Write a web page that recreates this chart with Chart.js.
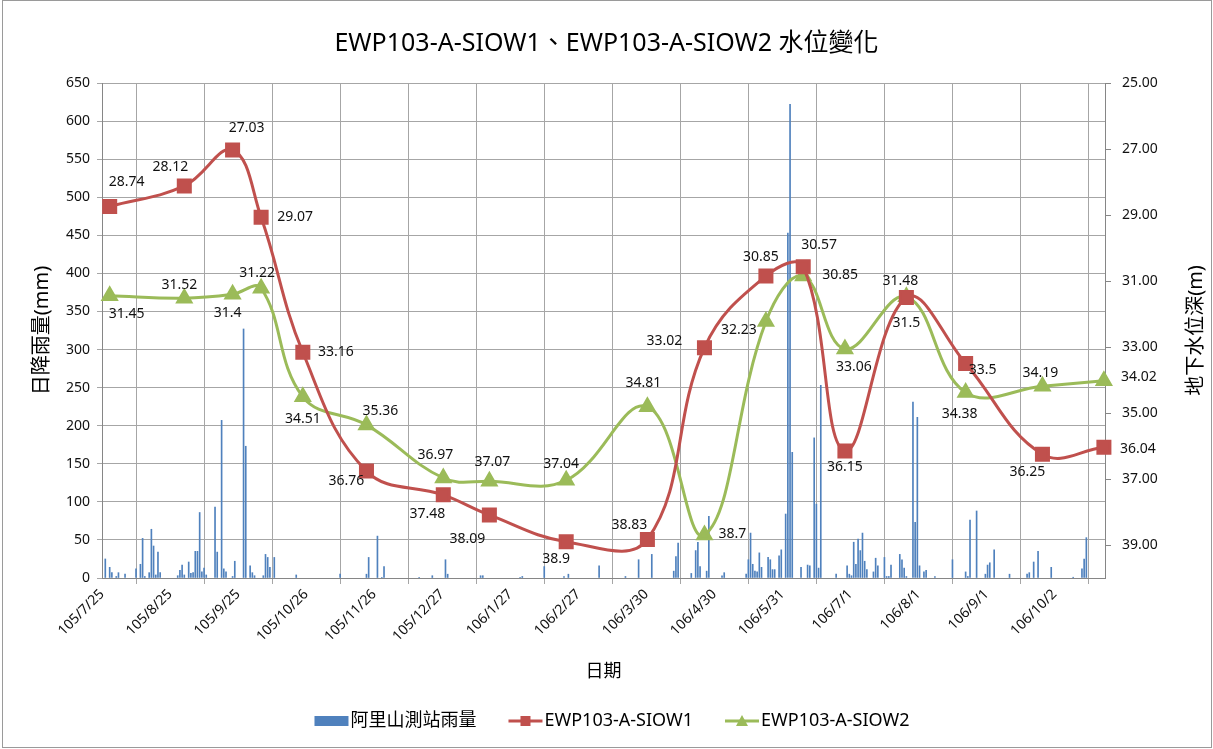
<!DOCTYPE html>
<html>
<head>
<meta charset="utf-8">
<script src="https://cdn.jsdelivr.net/npm/chart.js@4"></script>
<style>
  body { margin: 0; background: #fff; }
  canvas { display: block; }
</style>
</head>
<body>
<canvas id="chart" width="1213" height="749"></canvas>
<script>
const FONT = "'Noto Sans', 'Noto Sans CJK TC', sans-serif";
const BLUE = '#4F81BD';
const RED = '#C0504D';
const GREEN = '#9BBB59';

// x axis: tick dates (ROC calendar), one every 31 days
const xTickLabels = ['105/7/25', '105/8/25', '105/9/25', '105/10/26', '105/11/26', '105/12/27', '106/1/27',
    '106/2/27', '106/3/30', '106/4/30', '106/5/31', '106/7/1', '106/8/1', '106/9/1', '106/10/2'];
const xEndDate = '106/10/25';

// groundwater depth (m), both wells
const levelDates = ['105/7/28', '105/8/31', '105/9/22', '105/10/5', '105/10/24', '105/11/22', '105/12/27', '106/1/17',
    '106/2/21', '106/3/30', '106/4/25', '106/5/23', '106/6/9', '106/6/28', '106/7/26', '106/8/22', '106/9/26', '106/10/24'];
const siow1 = [28.74, 28.12, 27.03, 29.07, 33.16, 36.76, 37.48, 38.09, 38.9, 38.83, 33.02, 30.85, 30.57, 36.15, 31.5, 33.5, 36.25, 36.04];
const siow2 = [31.45, 31.52, 31.4, 31.22, 34.51, 35.36, 36.97, 37.07, 37.04, 34.81, 38.7, 32.23, 30.85, 33.06, 31.48, 34.38, 34.19, 34.02];

// daily rainfall at Alishan station (mm)
const rainDates = [
    '105/7/26', '105/7/28', '105/7/29', '105/7/31', '105/8/1', '105/8/4', '105/8/9', '105/8/11', '105/8/12', '105/8/13',
    '105/8/15', '105/8/16', '105/8/17', '105/8/18', '105/8/19', '105/8/20', '105/8/28', '105/8/29', '105/8/30', '105/8/31',
    '105/9/2', '105/9/3', '105/9/4', '105/9/5', '105/9/6', '105/9/7', '105/9/8', '105/9/9', '105/9/10', '105/9/14',
    '105/9/15', '105/9/17', '105/9/18', '105/9/19', '105/9/22', '105/9/23', '105/9/27', '105/9/28', '105/9/30', '105/10/1',
    '105/10/2', '105/10/6', '105/10/7', '105/10/8', '105/10/9', '105/10/11', '105/10/21', '105/11/10', '105/11/22', '105/11/23',
    '105/11/27', '105/11/29', '105/11/30', '105/12/16', '105/12/22', '105/12/28', '105/12/29', '106/1/13', '106/1/14', '106/1/31',
    '106/2/1', '106/2/11', '106/2/20', '106/2/22', '106/3/8', '106/3/20', '106/3/26', '106/4/1', '106/4/11', '106/4/12',
    '106/4/13', '106/4/19', '106/4/21', '106/4/22', '106/4/23', '106/4/26', '106/4/27', '106/5/3', '106/5/4', '106/5/14',
    '106/5/15', '106/5/16', '106/5/17', '106/5/18', '106/5/19', '106/5/20', '106/5/21', '106/5/24', '106/5/25', '106/5/26',
    '106/5/27', '106/5/29', '106/5/30', '106/6/1', '106/6/2', '106/6/3', '106/6/4', '106/6/8', '106/6/11', '106/6/12',
    '106/6/14', '106/6/15', '106/6/16', '106/6/17', '106/6/24', '106/6/29', '106/6/30', '106/7/1', '106/7/2', '106/7/3',
    '106/7/4', '106/7/5', '106/7/6', '106/7/7', '106/7/8', '106/7/11', '106/7/12', '106/7/13', '106/7/16', '106/7/17',
    '106/7/18', '106/7/19', '106/7/23', '106/7/24', '106/7/25', '106/7/26', '106/7/29', '106/7/30', '106/7/31', '106/8/1',
    '106/8/3', '106/8/4', '106/8/8', '106/8/16', '106/8/22', '106/8/23', '106/8/24', '106/8/27', '106/8/31', '106/9/1',
    '106/9/2', '106/9/4', '106/9/11', '106/9/19', '106/9/20', '106/9/22', '106/9/24', '106/9/30', '106/10/10', '106/10/14',
    '106/10/15', '106/10/16'
];
const rainMm = [
    25, 14, 7, 2, 7, 5, 12, 18, 52, 2,
    7, 64, 42, 4, 34, 7, 3, 10, 17, 4,
    21, 6, 7, 35, 35, 86, 8, 13, 4, 93,
    34, 207, 12, 8, 2, 22, 327, 173, 16, 7,
    3, 3, 31, 27, 14, 27, 4, 5, 5, 27,
    55, 1, 15, 1, 3, 24, 5, 3, 3, 1,
    2, 15, 2, 5, 16, 2, 24, 31, 9, 28,
    46, 6, 36, 47, 15, 9, 81, 3, 7, 5,
    24, 59, 18, 9, 8, 33, 14, 27, 24, 11,
    11, 29, 37, 84, 453, 622, 165, 14, 17, 16,
    184, 97, 13, 253, 5, 16, 5, 3, 47, 18,
    51, 36, 59, 22, 11, 8, 26, 16, 27, 2,
    2, 17, 31, 24, 13, 2, 231, 73, 211, 16,
    8, 10, 2, 24, 8, 2, 76, 88, 5, 17,
    20, 37, 5, 5, 7, 21, 35, 14, 1, 12,
    25, 53
];

const depthTicks = [25, 27, 29, 31, 33, 35, 37, 39];

// where each data label sits relative to its point (px)
const siow1LabelOffsets = [[17, -24], [-14, -19], [14, -22], [34, 0], [33, 0], [-20, 10], [-16, 19], [-22, 24], [-10, 17],
    [-18, -14], [-40, -7], [-5, -19], [16, -22], [0, 16], [0, 26], [17, 7], [-15, 18], [34, 2]];
const siow2LabelOffsets = [[17, 18], [-5, -13], [-5, 19], [-4, -15], [0, 22], [14, -14], [-8, -23], [3, -19], [-5, -16],
    [-4, -24], [28, -1], [-27, 8], [37, -1], [9, 18], [-6, -16], [-6, 21], [-2, -13], [35, -4]];

const BASE = Date.UTC(2016, 6, 25);
function rocToDay(s) {
    const [y, m, d] = s.split('/').map(Number);
    return Math.round((Date.UTC(y + 1911, m - 1, d) - BASE) / 864e5);
}
function dayToRoc(n) {
    const t = new Date(BASE + n * 864e5);
    return (t.getUTCFullYear() - 1911) + '/' + (t.getUTCMonth() + 1) + '/' + t.getUTCDate();
}

// points sit in the middle of their day
const rainData = rainDates.map((d, i) => ({ x: rocToDay(d) + 0.5, y: rainMm[i] }));
const siow1Data = levelDates.map((d, i) => ({ x: rocToDay(d) + 0.5, y: siow1[i] }));
const siow2Data = levelDates.map((d, i) => ({ x: rocToDay(d) + 0.5, y: siow2[i] }));

const pointLabels = {
    id: 'pointLabels',
    afterDatasetsDraw(chart) {
        const ctx = chart.ctx;
        const sets = [[1, siow1LabelOffsets], [2, siow2LabelOffsets]];
        ctx.save();
        ctx.font = '14px ' + FONT;
        ctx.fillStyle = '#111';
        ctx.textAlign = 'center';
        ctx.textBaseline = 'middle';
        sets.forEach(([idx, offsets]) => {
            const ds = chart.data.datasets[idx];
            chart.getDatasetMeta(idx).data.forEach((pt, i) => {
                const [dx, dy] = offsets[i];
                ctx.fillText(String(ds.data[i].y), pt.x + dx, pt.y + dy);
            });
        });
        ctx.restore();
    }
};

// right axis title reads bottom-to-top like the left one, so draw it by hand
const rightTitle = {
    id: 'rightTitle',
    afterDraw(chart) {
        const ctx = chart.ctx;
        const area = chart.chartArea;
        ctx.save();
        ctx.translate(1196, (area.top + area.bottom) / 2);
        ctx.rotate(-Math.PI / 2);
        ctx.font = '20px ' + FONT;
        ctx.fillStyle = '#000';
        ctx.textAlign = 'center';
        ctx.textBaseline = 'middle';
        ctx.fillText('地下水位深(m)', 0, 0);
        ctx.restore();
    }
};

const legendItems = [
    { text: '阿里山測站雨量', kind: 'bar', color: BLUE },
    { text: 'EWP103-A-SIOW1', kind: 'square', color: RED },
    { text: 'EWP103-A-SIOW2', kind: 'triangle', color: GREEN }
];

const bottomLegend = {
    id: 'bottomLegend',
    afterDraw(chart) {
        const ctx = chart.ctx;
        const symW = 34, gap = 2, itemGap = 32, y = 721;
        ctx.save();
        ctx.font = '18px ' + FONT;
        ctx.textBaseline = 'middle';
        const widths = legendItems.map(it => symW + gap + ctx.measureText(it.text).width);
        const total = widths.reduce((a, b) => a + b, 0) + itemGap * (legendItems.length - 1);
        let x = 612 - total / 2;
        legendItems.forEach((it, i) => {
            ctx.fillStyle = it.color;
            ctx.strokeStyle = it.color;
            if (it.kind === 'bar') {
                ctx.fillRect(x, y - 5, symW, 10);
            } else {
                ctx.lineWidth = 3;
                ctx.beginPath();
                ctx.moveTo(x, y);
                ctx.lineTo(x + symW, y);
                ctx.stroke();
                const cx = x + symW / 2;
                ctx.beginPath();
                if (it.kind === 'square') {
                    ctx.rect(cx - 5, y - 5, 10, 10);
                } else {
                    ctx.moveTo(cx, y - 6);
                    ctx.lineTo(cx + 6, y + 5);
                    ctx.lineTo(cx - 6, y + 5);
                    ctx.closePath();
                }
                ctx.fill();
            }
            ctx.fillStyle = '#000';
            ctx.fillText(it.text, x + symW + gap, y);
            x += widths[i] + itemGap;
        });
        ctx.restore();
    }
};

const frame = {
    id: 'frame',
    beforeDraw(chart) {
        const ctx = chart.ctx;
        ctx.save();
        ctx.fillStyle = '#fff';
        ctx.fillRect(0, 0, chart.width, chart.height);
        ctx.restore();
    },
    afterDraw(chart) {
        const ctx = chart.ctx;
        ctx.save();
        ctx.strokeStyle = '#9a9a9a';
        ctx.lineWidth = 1;
        ctx.strokeRect(2.5, 0.5, chart.width - 4, chart.height - 2);
        ctx.restore();
    }
};

const ctx = document.getElementById('chart').getContext('2d');

new Chart(ctx, {
    type: 'line',
    data: {
        datasets: [
            {
                type: 'bar',
                label: '阿里山測站雨量',
                data: rainData,
                backgroundColor: BLUE,
                barThickness: 1,
                yAxisID: 'y',
                order: 3
            },
            {
                label: 'EWP103-A-SIOW1',
                data: siow1Data,
                borderColor: RED,
                backgroundColor: RED,
                borderWidth: 3,
                pointStyle: 'rect',
                pointRadius: 8.5,
                tension: 0.4,
                clip: false,
                yAxisID: 'y2',
                order: 1
            },
            {
                label: 'EWP103-A-SIOW2',
                data: siow2Data,
                borderColor: GREEN,
                backgroundColor: GREEN,
                borderWidth: 3,
                pointStyle: 'triangle',
                pointRadius: 7.5,
                tension: 0.4,
                clip: false,
                yAxisID: 'y2',
                order: 2
            }
        ]
    },
    options: {
        responsive: false,
        animation: false,
        layout: { padding: { left: 0, right: 0, top: 0, bottom: 49 } },
        font: { family: FONT },
        plugins: {
            legend: { display: false },
            tooltip: { enabled: false },
            title: {
                display: true,
                text: 'EWP103-A-SIOW1、EWP103-A-SIOW2 水位變化',
                color: '#000',
                font: { family: FONT, size: 25, weight: 'normal' },
                padding: { top: 29, bottom: 24 }
            }
        },
        scales: {
            x: {
                type: 'linear',
                min: 0,
                max: rocToDay(xEndDate),
                offset: false,
                afterBuildTicks: scale => {
                    scale.ticks = xTickLabels.map(s => ({ value: rocToDay(s) }));
                },
                afterFit: scale => { scale.height = 122; },
                ticks: {
                    autoSkip: false,
                    minRotation: 45,
                    maxRotation: 45,
                    padding: 2,
                    color: '#111',
                    font: { family: FONT, size: 14 },
                    callback: value => dayToRoc(value)
                },
                grid: { color: '#a6a6a6', tickLength: 6 },
                border: { color: '#868686' },
                title: {
                    display: true,
                    text: '日期',
                    color: '#000',
                    font: { family: FONT, size: 18 },
                    padding: { top: 0, bottom: 17 }
                }
            },
            y: {
                position: 'left',
                min: 0,
                max: 650,
                afterFit: scale => { scale.width = 102; },
                ticks: {
                    stepSize: 50,
                    padding: 7,
                    color: '#111',
                    font: { family: FONT, size: 14 }
                },
                grid: { color: '#a6a6a6', tickLength: 5 },
                border: { color: '#868686' },
                title: {
                    display: true,
                    text: '日降雨量(mm)',
                    color: '#000',
                    font: { family: FONT, size: 20 },
                    padding: { top: 30 }
                }
            },
            y2: {
                position: 'right',
                reverse: true,
                min: 25,
                max: 40,
                afterBuildTicks: scale => {
                    scale.ticks = depthTicks.map(v => ({ value: v }));
                },
                afterFit: scale => { scale.width = 108; },
                ticks: {
                    padding: 11,
                    color: '#111',
                    font: { family: FONT, size: 14 },
                    callback: value => value.toFixed(2)
                },
                grid: { drawOnChartArea: false, color: '#868686', tickLength: 6 },
                border: { color: '#868686' }
            }
        }
    },
    plugins: [frame, pointLabels, rightTitle, bottomLegend]
});
</script>
</body>
</html>
